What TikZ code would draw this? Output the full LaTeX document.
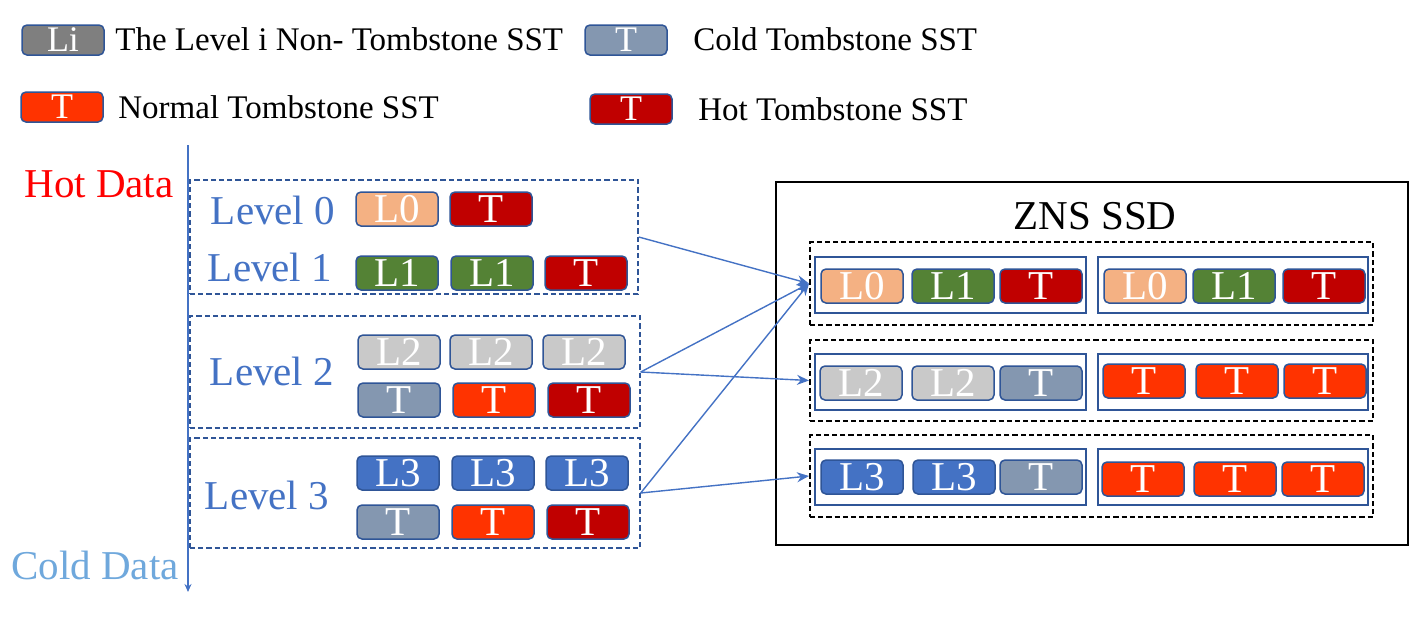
\documentclass[tikz,border=0pt]{standalone}
\usepackage{fontspec}
\setmainfont{Liberation Serif}
\usepackage{xcolor}
\definecolor{levelblue}{HTML}{4472C4}
\definecolor{edgeblue}{HTML}{2F5597}
\definecolor{hotred}{HTML}{FF0000}
\definecolor{coldblue}{HTML}{6FA8DC}
\definecolor{sstLi}{HTML}{7F7F7F}
\definecolor{sstLzero}{HTML}{F4B183}
\definecolor{sstLone}{HTML}{548235}
\definecolor{sstLtwo}{HTML}{C9C9C9}
\definecolor{sstLthree}{HTML}{4472C4}
\definecolor{tcold}{HTML}{8497B0}
\definecolor{tnormal}{HTML}{FF3300}
\definecolor{thot}{HTML}{C00000}
\usetikzlibrary{arrows.meta,positioning,fit}
\newcommand{\lvlfont}{\fontsize{20.5}{24}\selectfont}
\newcommand{\legfont}{\fontsize{16.5}{20}\selectfont}
\newcommand{\keyfont}{\fontsize{18}{21}\selectfont}

\begin{document}
\begin{tikzpicture}[x=0.5pt, y=-0.5pt, >=Stealth,
	sst/.style={draw=edgeblue, line width=0.75pt, rounded corners=2.5pt, minimum width=41pt, minimum height=17pt, inner sep=0pt, text=white, font=\lvlfont},
	keysst/.style={sst, minimum height=15pt, font=\keyfont},
	lvbox/.style={draw=edgeblue, line width=0.7pt, dash pattern=on 2.6pt off 1.5pt, inner sep=0pt},
	zonebox/.style={draw=black, line width=1pt, dash pattern=on 2.6pt off 1.5pt, inner sep=0pt},
	chunkbox/.style={draw=edgeblue, line width=0.9pt, inner sep=0pt},
	flow/.style={-{Stealth[length=6pt, width=5pt]}, levelblue, line width=0.7pt}]
		\useasboundingbox (0,0) rectangle (1419,616);

		% legend
		\node[keysst, fill=sstLi] (keyLi) at (63,40) {Li};
		\node[anchor=base west, inner sep=0pt, font=\legfont] (keyLitxt) at (115,50) {The Level i Non- Tombstone SST};
		\node[keysst, fill=tcold] (keyTc) at (626,40) {T};
		\node[anchor=base west, inner sep=0pt, font=\legfont] (keyTctxt) at (693,50) {Cold Tombstone SST};
		\node[keysst, fill=tnormal] (keyTn) at (62,107) {T};
		\node[anchor=base west, inner sep=0pt, font=\legfont] (keyTntxt) at (118,118) {Normal Tombstone SST};
		\node[keysst, fill=thot] (keyTh) at (631,109) {T};
		\node[anchor=base west, inner sep=0pt, font=\legfont] (keyThtxt) at (698,120) {Hot Tombstone SST};

		% hot/cold axis
		\coordinate (axtop) at (188,145);
		\coordinate (axbot) at (188,592);
		\draw[-{Stealth[length=4pt, width=3.5pt]}, levelblue, line width=1pt] (axtop) -- (axbot);
		\node[anchor=base, inner sep=0pt, hotred, font=\lvlfont] (hot) at (99,197) {Hot Data};
		\node[anchor=base, inner sep=0pt, coldblue, font=\lvlfont] (cold) at (95,579) {Cold Data};

		% LSM levels
		\node[lvbox, fit={(190,180) (638,294)}] (lvA) {};
		\node[lvbox, fit={(190,316) (640,428)}] (lvB) {};
		\node[lvbox, fit={(190,438) (640,548)}] (lvC) {};

		\node[anchor=base, inner sep=0pt, levelblue, font=\lvlfont] (lv0) at (273,224) {Level 0};
		\node[anchor=base, inner sep=0pt, levelblue, font=\lvlfont] (lv1) at (270,281) {Level 1};
		\node[anchor=base, inner sep=0pt, levelblue, font=\lvlfont] (lv2) at (272,385) {Level 2};
		\node[anchor=base, inner sep=0pt, levelblue, font=\lvlfont] (lv3) at (267,509) {Level 3};

		\node[sst, fill=sstLzero] (a1) at (397,209) {L0};
		\node[sst, fill=thot] (a2) at (491,209) {T};
		\foreach \x/\c/\t [count=\i] in {397/sstLone/L1, 492/sstLone/L1, 586/thot/T} {
			\node[sst, fill=\c] (b\i) at (\x,273) {\t};
		}
		\foreach \x/\c/\t [count=\i] in {399/sstLtwo/L2, 491/sstLtwo/L2, 584/sstLtwo/L2} {
			\node[sst, fill=\c] (c\i) at (\x,352) {\t};
		}
		\foreach \x/\c/\t [count=\i] in {399/tcold/T, 494/tnormal/T, 589/thot/T} {
			\node[sst, fill=\c] (d\i) at (\x,400) {\t};
		}
		\foreach \x/\c/\t [count=\i] in {398/sstLthree/L3, 493/sstLthree/L3, 587/sstLthree/L3} {
			\node[sst, fill=\c] (e\i) at (\x,473) {\t};
		}
		\foreach \x/\c/\t [count=\i] in {398/tcold/T, 493/tnormal/T, 588/thot/T} {
			\node[sst, fill=\c] (f\i) at (\x,522) {\t};
		}

		% ZNS SSD
		\node[draw=black, line width=0.8pt, inner sep=0pt, fit={(776,182) (1408,545)}] (ssd) {};
		\node[anchor=base, inner sep=0pt, font=\lvlfont] (ssdtitle) at (1095,229) {ZNS SSD};

		\foreach \n/\ya/\yb/\ca/\cb in {A/242/325/257/313, B/340/421/354/410, C/435/517/449/505} {
			\node[zonebox, fit={(810,\ya) (1373,\yb)}] (zone\n) {};
			\node[chunkbox, fit={(815,\ca) (1086,\cb)}] (chunk\n L) {};
			\node[chunkbox, fit={(1098,\ca) (1368,\cb)}] (chunk\n R) {};
		}

		\foreach \x/\c/\t [count=\i] in {862/sstLzero/L0, 953/sstLone/L1, 1041/thot/T, 1145/sstLzero/L0, 1234/sstLone/L1, 1324/thot/T} {
			\node[sst, fill=\c] (za\i) at (\x,286) {\t};
		}
		\foreach \x/\y/\c/\t [count=\i] in {861/383/sstLtwo/L2, 953/383/sstLtwo/L2, 1041/383/tcold/T, 1144/381/tnormal/T, 1237/381/tnormal/T, 1325/381/tnormal/T} {
			\node[sst, fill=\c] (zb\i) at (\x,\y) {\t};
		}
		\foreach \x/\y/\c/\t [count=\i] in {862/477/sstLthree/L3, 954/477/sstLthree/L3, 1041/477/tcold/T, 1143/479/tnormal/T, 1235/479/tnormal/T, 1323/479/tnormal/T} {
			\node[sst, fill=\c] (zc\i) at (\x,\y) {\t};
		}

		% placement of levels into zones
		\draw[flow] (lvA.east) -- (zoneA.west);
		\draw[flow] (lvB.east) -- (zoneA.west);
		\draw[flow] (lvB.east) -- (zoneB.west);
		\draw[flow] (lvC.east) -- (zoneA.west);
		\draw[flow] (lvC.east) -- (zoneC.west);
	\end{tikzpicture}
\end{document}
